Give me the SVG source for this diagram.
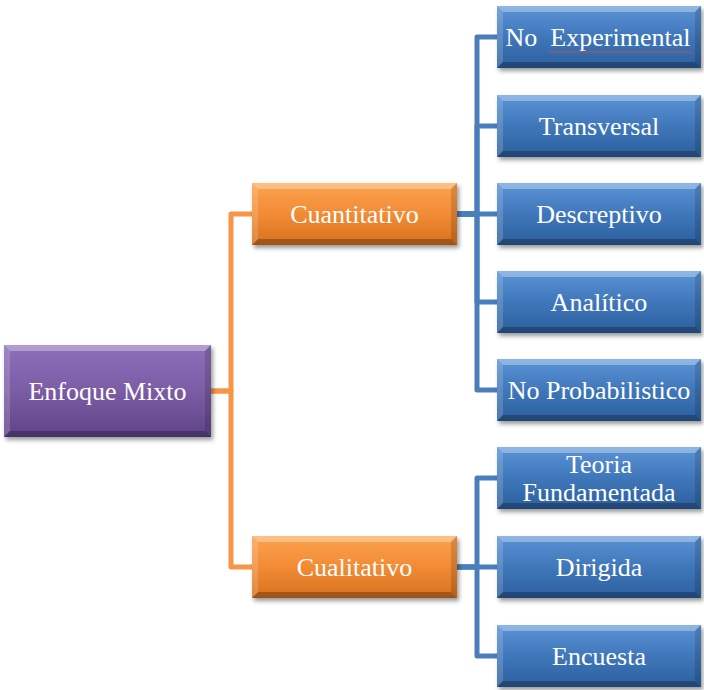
<svg xmlns="http://www.w3.org/2000/svg" xmlns:xlink="http://www.w3.org/1999/xlink" width="704" height="690" viewBox="0 0 704 690">
<style>
.t{font-family:"Liberation Serif","Times New Roman",serif;font-size:26px;fill:#ffffff;text-anchor:middle}
.co{fill:none;stroke:#f79646;stroke-width:5;stroke-linejoin:round}
.cb{fill:none;stroke:#4a7ebb;stroke-width:5;stroke-linejoin:round}
.hl{fill:#ffffff;fill-opacity:0.32}
.hl2{fill:#ffffff;fill-opacity:0.16}
.sh{fill:#000000;fill-opacity:0.14}
.sh2{fill:#000000;fill-opacity:0.26}
</style>
<defs>
<linearGradient id="gP" x1="0" y1="0" x2="0" y2="1">
<stop offset="0" stop-color="#8e6fba"/><stop offset="0.5" stop-color="#7b5ca5"/><stop offset="1" stop-color="#5f4488"/>
</linearGradient>
<linearGradient id="gO" x1="0" y1="0" x2="0" y2="1">
<stop offset="0" stop-color="#fca24f"/><stop offset="0.5" stop-color="#f28b35"/><stop offset="1" stop-color="#d8711f"/>
</linearGradient>
<linearGradient id="gB" x1="0" y1="0" x2="0" y2="1">
<stop offset="0" stop-color="#5b93d6"/><stop offset="0.5" stop-color="#3f77ba"/><stop offset="1" stop-color="#2c5f9e"/>
</linearGradient>
<filter id="ds" x="-10%" y="-20%" width="125%" height="150%">
<feDropShadow dx="2" dy="3" stdDeviation="2" flood-color="#000000" flood-opacity="0.4"/>
</filter>
<g id="bevB">
<polygon class="hl" points="0,0 204,0 198,6 6,6"/>
<polygon class="hl2" points="0,0 6,6 6,56 0,62"/>
<polygon class="sh" points="204,0 204,62 198,56 198,6"/>
<polygon class="sh2" points="0,62 204,62 198,56 6,56"/>
</g>
<g id="bevO">
<polygon class="hl" points="0,0 205,0 199,6 6,6"/>
<polygon class="hl2" points="0,0 6,6 6,56 0,62"/>
<polygon class="sh" points="205,0 205,62 199,56 199,6"/>
<polygon class="sh2" points="0,62 205,62 199,56 6,56"/>
</g>
</defs>

<g id="connectors">
<path class="co" d="M211,391 H231 V214 H252"/>
<path class="co" d="M211,391 H231 V567 H252"/>
<path class="cb" d="M457,214 H477 V37 H497"/>
<path class="cb" d="M457,214 H477 V126 H497"/>
<path class="cb" d="M457,214 H497"/>
<path class="cb" d="M457,214 H477 V302 H497"/>
<path class="cb" d="M457,214 H477 V390 H497"/>
<path class="cb" d="M457,567 H477 V478 H497"/>
<path class="cb" d="M457,567 H497"/>
<path class="cb" d="M457,567 H477 V656 H497"/>
</g>

<g id="n-enfoque" transform="translate(4,345)">
<rect width="207" height="92" fill="url(#gP)" filter="url(#ds)"/>
<polygon class="hl" points="0,0 207,0 201,6 6,6"/>
<polygon class="hl2" points="0,0 6,6 6,86 0,92"/>
<polygon class="sh" points="207,0 207,92 201,86 201,6"/>
<polygon class="sh2" points="0,92 207,92 201,86 6,86"/>
<text class="t" x="103.5" y="55">Enfoque Mixto</text>
</g>

<g id="n-cuantitativo" transform="translate(252,183)">
<rect width="205" height="62" fill="url(#gO)" filter="url(#ds)"/>
<use xlink:href="#bevO"/>
<text class="t" x="102.5" y="40">Cuantitativo</text>
</g>

<g id="n-cualitativo" transform="translate(252,536)">
<rect width="205" height="62" fill="url(#gO)" filter="url(#ds)"/>
<use xlink:href="#bevO"/>
<text class="t" x="102.5" y="40">Cualitativo</text>
</g>

<g id="n-noexp" transform="translate(497,6)">
<rect width="204" height="62" fill="url(#gB)" filter="url(#ds)"/>
<use xlink:href="#bevB"/>
<text class="t" x="101" y="40" xml:space="preserve">No  Experimental</text>
<path d="M52,46 q2,-2 4,0 t4,0 t4,0 t4,0 t4,0 t4,0 t4,0 t4,0 t4,0 t4,0 t4,0 t4,0 t4,0 t4,0 t4,0 t4,0 t4,0 t4,0 t4,0 t4,0 t4,0 t4,0 t4,0 t4,0 t4,0 t4,0 t4,0 t4,0 t4,0 t4,0 t4,0 t4,0 t4,0 t4,0 t4,0 t4,0" fill="none" stroke="#c0504d" stroke-width="1"/>
</g>

<g id="n-transversal" transform="translate(497,95)">
<rect width="204" height="62" fill="url(#gB)" filter="url(#ds)"/>
<use xlink:href="#bevB"/>
<text class="t" x="102" y="40">Transversal</text>
</g>

<g id="n-descreptivo" transform="translate(497,183)">
<rect width="204" height="62" fill="url(#gB)" filter="url(#ds)"/>
<use xlink:href="#bevB"/>
<text class="t" x="102" y="40">Descreptivo</text>
</g>

<g id="n-analitico" transform="translate(497,271)">
<rect width="204" height="62" fill="url(#gB)" filter="url(#ds)"/>
<use xlink:href="#bevB"/>
<text class="t" x="102" y="40">Analítico</text>
</g>

<g id="n-noprob" transform="translate(497,359)">
<rect width="204" height="62" fill="url(#gB)" filter="url(#ds)"/>
<use xlink:href="#bevB"/>
<text class="t" x="102" y="40">No Probabilistico</text>
</g>

<g id="n-teoria" transform="translate(497,447)">
<rect width="204" height="62" fill="url(#gB)" filter="url(#ds)"/>
<use xlink:href="#bevB"/>
<text class="t" x="102" y="26">Teoria</text>
<text class="t" x="102" y="54">Fundamentada</text>
</g>

<g id="n-dirigida" transform="translate(497,536)">
<rect width="204" height="62" fill="url(#gB)" filter="url(#ds)"/>
<use xlink:href="#bevB"/>
<text class="t" x="102" y="40">Dirigida</text>
</g>

<g id="n-encuesta" transform="translate(497,625)">
<rect width="204" height="62" fill="url(#gB)" filter="url(#ds)"/>
<use xlink:href="#bevB"/>
<text class="t" x="102" y="40">Encuesta</text>
</g>
</svg>
